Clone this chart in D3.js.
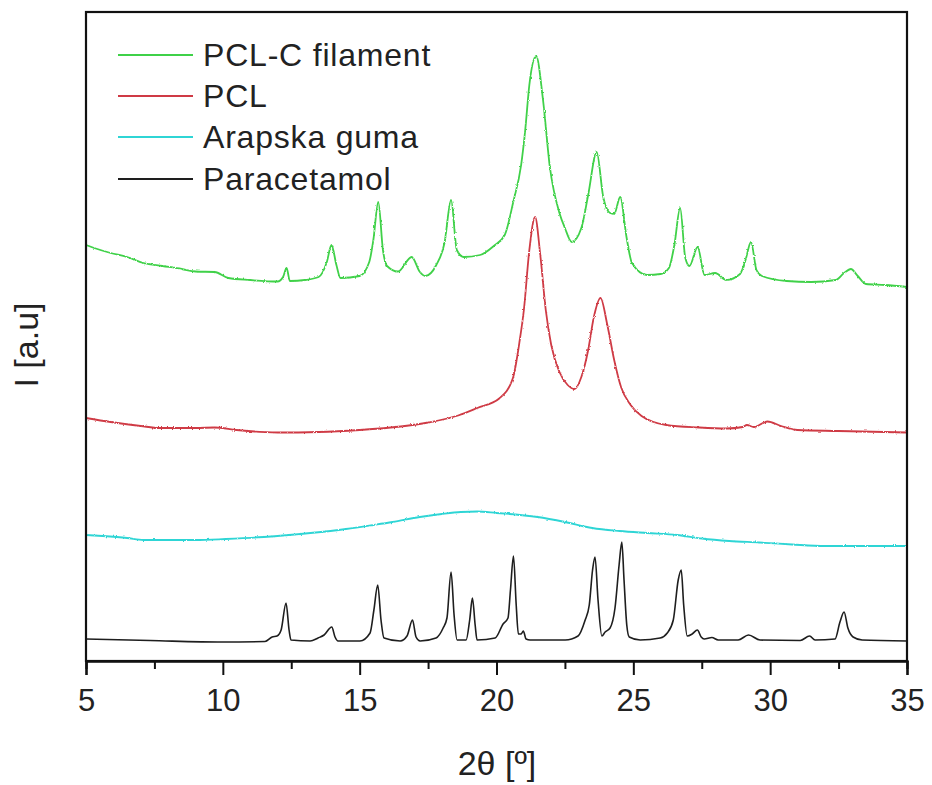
<!DOCTYPE html>
<html>
<head>
<meta charset="utf-8">
<script src="https://cdn.jsdelivr.net/npm/d3@7"></script>
<style>
  html, body { margin: 0; padding: 0; background: #fff; }
  svg { display: block; font-family: "Liberation Sans", Arial, Helvetica, sans-serif; }
</style>
</head>
<body>
<svg id="chart" width="932" height="785"></svg>
<script>
// XRD patterns: [2θ (degrees), intensity (a.u., stacked with offsets)]
const pclcFilament = [
  [5.0, 416], [5.3, 413], [5.9, 408], [6.5, 404], [7.1, 398], [7.8, 395], [8.5, 392],
  [9.0, 389.5], [9.7, 389], [10.2, 383], [11.0, 381], [12.0, 379.5], [12.2, 384],
  [12.33, 393], [12.45, 380], [13.0, 381], [13.5, 384], [13.8, 399], [13.97, 416],
  [14.15, 396], [14.3, 383], [15.0, 385], [15.35, 399], [15.5, 421], [15.68, 459],
  [15.85, 411], [16.0, 395], [16.4, 389.5], [16.9, 404], [17.2, 389], [17.4, 385],
  [17.8, 396], [18.1, 418], [18.34, 461], [18.55, 411], [18.8, 404], [19.4, 406],
  [19.9, 415], [20.3, 426], [20.62, 460], [20.9, 496], [21.05, 531], [21.2, 576],
  [21.45, 605], [21.7, 561], [21.95, 494], [22.3, 448], [22.5, 433], [22.75, 419],
  [23.1, 433], [23.35, 466], [23.66, 509], [23.9, 464], [24.15, 448], [24.3, 447],
  [24.52, 464], [24.75, 424], [24.95, 398], [25.5, 386], [26.0, 387], [26.3, 393],
  [26.5, 416], [26.71, 453], [26.9, 403], [27.05, 395], [27.35, 414], [27.6, 386],
  [27.99, 388], [28.4, 381], [28.9, 387], [29.1, 401], [29.3, 419], [29.5, 391],
  [29.7, 385], [30.6, 380], [31.5, 379], [32.4, 381], [32.7, 388], [32.95, 392],
  [33.2, 385], [33.5, 377], [34.2, 376], [35.0, 374]
];

const pcl = [
  [5.0, 243], [5.9, 239], [7.0, 235], [7.7, 233], [9.0, 233], [9.7, 233.5], [10.5, 231],
  [12.0, 228.5], [13.5, 229], [15.0, 231], [16.5, 234.5], [17.5, 238.5], [18.6, 245.5],
  [19.3, 253], [20.1, 262.5], [20.6, 283], [20.85, 321], [21.0, 351], [21.2, 411],
  [21.41, 444], [21.6, 406], [21.8, 351], [22.0, 316], [22.3, 289], [22.6, 276],
  [22.85, 272], [23.1, 284], [23.35, 311], [23.55, 343], [23.8, 363], [24.05, 336],
  [24.3, 301], [24.55, 274], [24.9, 256], [25.3, 245], [26.2, 236], [27.4, 233.5],
  [28.4, 232.5], [29.0, 234], [29.15, 236], [29.4, 234], [29.9, 239.5], [30.4, 235],
  [31.0, 231], [32.5, 230], [35.0, 228.5]
];

const arapskaGuma = [
  [5.0, 126], [5.6, 125], [6.5, 123], [7.1, 121], [8.0, 121], [9.0, 121], [10.1, 122],
  [11.5, 124], [13.2, 128], [14.5, 132], [15.5, 136], [16.2, 139], [17.2, 144],
  [18.0, 147], [18.7, 149], [19.3, 149.5], [20.0, 148], [21.5, 144], [22.5, 139],
  [23.5, 133], [24.5, 130], [25.5, 128], [26.6, 126], [27.5, 122.5], [28.5, 120],
  [29.6, 118.5], [30.8, 116.5], [32.0, 115], [33.5, 115], [35.0, 115]
];

const paracetamol = [
  [5.0, 22], [7.34, 20.5], [9.97, 19], [11.54, 19.5], [11.8, 24], [11.98, 25], [12.13, 31],
  [12.31, 58], [12.42, 31], [12.49, 21], [13.19, 20], [13.48, 23], [13.7, 26], [13.98, 34],
  [14.1, 24], [14.21, 20], [15.01, 20], [15.38, 28], [15.52, 51], [15.66, 76], [15.78, 41],
  [15.89, 23], [16.48, 20], [16.73, 25], [16.93, 41], [17.06, 24], [17.21, 20], [17.79, 23],
  [18.05, 33], [18.19, 43], [18.34, 89], [18.45, 46], [18.56, 21], [18.89, 21], [19.02, 41],
  [19.12, 63], [19.22, 36], [19.29, 21], [19.95, 23], [20.24, 37], [20.42, 43], [20.51, 71],
  [20.62, 105], [20.72, 56], [20.8, 27], [20.9, 27], [20.98, 30], [21.08, 22], [21.23, 21],
  [22.51, 21], [22.98, 25], [23.24, 41], [23.39, 56], [23.51, 91], [23.6, 104], [23.71, 61],
  [23.85, 25], [23.97, 29], [24.15, 33], [24.33, 53], [24.48, 96], [24.58, 119], [24.66, 81],
  [24.76, 36], [24.85, 24], [25.25, 21], [25.98, 23], [26.24, 28], [26.46, 41], [26.64, 81],
  [26.75, 91], [26.84, 56], [26.97, 25], [27.15, 27], [27.34, 31], [27.48, 24], [27.59, 22],
  [27.87, 23.5], [28.1, 21], [28.83, 21], [29.21, 26], [29.63, 21], [31.1, 20.5], [31.44, 25],
  [31.64, 21], [32.37, 22], [32.55, 39], [32.7, 49], [32.84, 33], [33.03, 24], [33.36, 21],
  [35.0, 20]
];

const seriesNames = ["PCL-C filament", "PCL", "Arapska guma", "Paracetamol"];
const seriesColors = ["#3fd148", "#cf3a45", "#2fd5d5", "#1e1e1e"];
const seriesData = [pclcFilament, pcl, arapskaGuma, paracetamol];
// measured traces carry counting noise; the smooth reference pattern does not
const seriesNoisy = [true, true, true, false];

const majorTicks = [5, 10, 15, 20, 25, 30, 35];
const minorTicks = [7.5, 12.5, 17.5, 22.5, 27.5, 32.5];
const xTitle = "2θ [º]";
const yTitle = "I [a.u]";

const svg = d3.select("#chart");
const plotLeft = 86, plotRight = 907, plotTop = 12, plotBottom = 661;

// slight jitter filter to give measured traces their grainy look
const defs = svg.append("defs");
const grain = defs.append("filter").attr("id", "grain")
  .attr("x", "-2%").attr("y", "-5%").attr("width", "104%").attr("height", "110%");
grain.append("feTurbulence")
  .attr("type", "fractalNoise").attr("baseFrequency", "0.9 0.35")
  .attr("numOctaves", 1).attr("seed", 4).attr("result", "noise");
grain.append("feDisplacementMap")
  .attr("in", "SourceGraphic").attr("in2", "noise")
  .attr("scale", 2.6).attr("xChannelSelector", "R").attr("yChannelSelector", "G");

const x = d3.scaleLinear().domain([5, 35]).range([plotLeft, plotRight]);
const y = d3.scaleLinear().domain([0, 649]).range([plotBottom, plotTop]);

const line = d3.line()
  .x(d => x(d[0]))
  .y(d => y(d[1]))
  .curve(d3.curveMonotoneX);

// traces, drawn bottom-up so the top one sits above
const plot = svg.append("g");
for (let i = seriesData.length - 1; i >= 0; i--) {
  const p = plot.append("path")
    .datum(seriesData[i])
    .attr("fill", "none")
    .attr("stroke", seriesColors[i])
    .attr("stroke-width", i === 3 ? 1.6 : 1.8)
    .attr("stroke-linejoin", "round")
    .attr("d", line);
  if (seriesNoisy[i]) p.attr("filter", "url(#grain)");
}

// frame
svg.append("rect")
  .attr("x", plotLeft).attr("y", plotTop)
  .attr("width", plotRight - plotLeft).attr("height", plotBottom - plotTop)
  .attr("fill", "none").attr("stroke", "#111").attr("stroke-width", 2.2);

// bottom axis: major + minor ticks
const axisMajor = svg.append("g")
  .attr("transform", `translate(0,${plotBottom})`)
  .call(d3.axisBottom(x).tickValues(majorTicks).tickSize(14).tickFormat(d3.format("d")));
const axisMinor = svg.append("g")
  .attr("transform", `translate(0,${plotBottom})`)
  .call(d3.axisBottom(x).tickValues(minorTicks).tickSize(8).tickFormat(""));

[axisMajor, axisMinor].forEach(g => {
  g.select(".domain").attr("stroke", "#111").attr("stroke-width", 2.2);
  g.selectAll(".tick line").attr("stroke", "#111").attr("stroke-width", 2);
});
axisMajor.selectAll(".tick text")
  .attr("y", 50).attr("dy", 0)
  .attr("fill", "#222")
  .style("font-size", "31px");

// axis titles
svg.append("text")
  .attr("x", 497).attr("y", 775)
  .attr("text-anchor", "middle")
  .attr("fill", "#222")
  .style("font-size", "34px")
  .text(xTitle);

svg.append("text")
  .attr("transform", `translate(38,345) rotate(-90)`)
  .attr("text-anchor", "middle")
  .attr("fill", "#222")
  .style("font-size", "34px")
  .text(yTitle);

// legend
const legend = svg.append("g");
const legendY = [55, 96, 137, 179];
seriesNames.forEach((name, i) => {
  legend.append("line")
    .attr("x1", 118).attr("x2", 193)
    .attr("y1", legendY[i]).attr("y2", legendY[i])
    .attr("stroke", seriesColors[i]).attr("stroke-width", 1.8);
  legend.append("text")
    .attr("x", 203).attr("y", legendY[i] + 11)
    .attr("fill", "#222")
    .style("font-size", "32px")
    .style("letter-spacing", "0.8px")
    .text(name);
});
</script>
</body>
</html>
